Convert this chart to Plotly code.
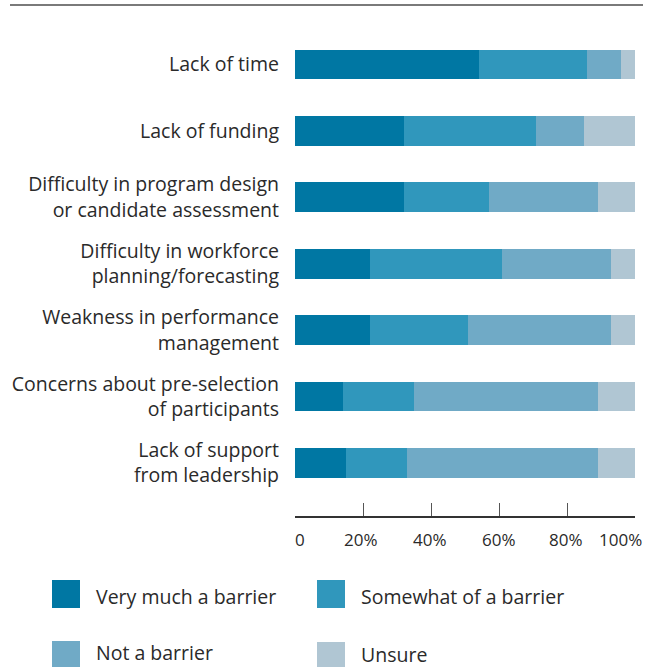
import plotly.graph_objects as go

categories = [
    "Lack of time",
    "Lack of funding",
    "Difficulty in program design<br>or candidate assessment",
    "Difficulty in workforce<br>planning/forecasting",
    "Weakness in performance<br>management",
    "Concerns about pre-selection<br>of participants",
    "Lack of support<br>from leadership",
]
series_names = ["Very much a barrier", "Somewhat of a barrier", "Not a barrier", "Unsure"]
very_much = [54, 32, 32, 22, 22, 14, 15]
somewhat = [32, 39, 25, 39, 29, 21, 18]
not_barrier = [10, 14, 32, 32, 42, 54, 56]
unsure = [4, 15, 11, 7, 7, 11, 11]
tick_values = [0, 20, 40, 60, 80, 100]
tick_labels = ["0", "20%", "40%", "60%", "80%", "100%"]

colors = ["#0077A3", "#3097BC", "#70AAC6", "#B0C6D3"]
series = [very_much, somewhat, not_barrier, unsure]

W, H = 657, 667
L, R, T, B = 295, 22, 18, 151
PW, PH = W - L - R, H - T - B
FONT = "Open Sans"
TXT = "#2a2a2a"

def px_x(px):
    return (px - L) / PW

def px_y(py):
    return (H - B - py) / PH

fig = go.Figure()
ypos = list(range(len(categories)))
for name, vals, col in zip(series_names, series, colors):
    fig.add_trace(go.Bar(
        y=ypos, x=vals, name=name, orientation="h",
        marker=dict(color=col, line=dict(width=0)),
        width=0.45, showlegend=False,
    ))

shapes = []
annotations = []
# top rule
shapes.append(dict(type="line", xref="paper", yref="paper",
                   x0=px_x(10), x1=px_x(643), y0=px_y(5), y1=px_y(5),
                   line=dict(color="#7a7a7a", width=2)))
# x tick labels
shifts = [5, -2, -1, 0, -1, -15]
for v, t, s in zip(tick_values, tick_labels, shifts):
    annotations.append(dict(x=v, y=px_y(539), xref="x", yref="paper", text=t,
                            showarrow=False, xanchor="center", yanchor="middle",
                            xshift=s, font=dict(family=FONT, size=17, color=TXT)))
# legend
leg_pos = [(52, 594, 596), (317, 594, 596), (52, 655, 653), (317, 656, 654)]
for (sx, sy, ty), name, col in zip(leg_pos, series_names, colors):
    shapes.append(dict(type="rect", xref="paper", yref="paper",
                       x0=px_x(sx), x1=px_x(sx + 28), y0=px_y(sy - 14), y1=px_y(sy + 14),
                       fillcolor=col, line=dict(width=0)))
    annotations.append(dict(x=px_x(sx + 42), y=px_y(ty), xref="paper", yref="paper",
                            text=name, showarrow=False, xanchor="left", yanchor="middle",
                            font=dict(family=FONT, size=19.5, color=TXT)))

fig.update_layout(
    width=W, height=H,
    margin=dict(l=L, r=R, t=T, b=B, pad=0),
    barmode="stack",
    plot_bgcolor="white", paper_bgcolor="white",
    shapes=shapes, annotations=annotations,
    xaxis=dict(range=[0, 100], showgrid=False, zeroline=False,
               showline=True, linecolor="#333333", linewidth=1.5,
               ticks="inside", ticklen=13, tickwidth=1.2, tickcolor="#555555",
               tickvals=tick_values[1:], showticklabels=False, fixedrange=True),
    yaxis=dict(range=[6.8, -0.7], showgrid=False, zeroline=False, showline=False,
               tickvals=ypos, ticktext=categories, ticks="",
               ticklabelstandoff=15,
               tickfont=dict(family=FONT, size=19.5, color=TXT), fixedrange=True),
)

fig.write_html("out.html")
